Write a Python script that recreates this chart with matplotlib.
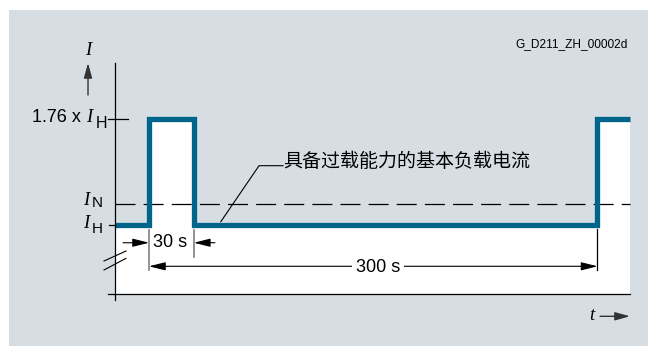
import matplotlib
matplotlib.use("Agg")
import matplotlib.pyplot as plt
from matplotlib.patches import Rectangle

# levels in multiples of I_H, times in seconds
level_base = 1.0        # I_H
level_peak = 1.76       # 1.76 x I_H
level_rated = 1.15      # I_N
pulse_start = 0
pulse_end = 30
period = 300

t_axis = -22.7          # where the I axis sits
t_last = 321.7          # right end of the curve
v_floor = 0.5           # where the t axis sits

curve_t = [t_axis, pulse_start, pulse_start, pulse_end, pulse_end, period, period, t_last]
curve_v = [level_base, level_base, level_peak, level_peak, level_base, level_base, level_peak, level_peak]

label_text = "具备过载能力的基本负载电流"
fig_code = "G_D211_ZH_00002d"

SANS = "Liberation Sans"
SERIF = "Liberation Serif"
CJK = ["Noto Sans CJK SC", "DejaVu Sans"]
BLUE = "#00658a"
PANEL = "#d6dee3"

fig = plt.figure(figsize=(6.48, 3.46), dpi=100)
ax = fig.add_axes([0, 0, 1, 1])
ax.set_xlim(-99.67, 333.78)
ax.set_ylim(0.1206, 2.6249)
ax.axis("off")

# grey panel
ax.add_patch(Rectangle((9 / 648, 0), 1 - 9 / 648, 336 / 346, transform=ax.transAxes,
                       facecolor=PANEL, edgecolor="none", zorder=0))

# white area below the curve
ax.fill_between(curve_t, v_floor, curve_v, facecolor="white", edgecolor="none", zorder=1)

# axes
ax.plot([t_axis, t_axis], [0.454, 2.169], color="black", lw=0.9, zorder=4)
ax.plot([-27.4, t_last], [v_floor, v_floor], color="black", lw=0.9, zorder=4)
ax.plot([-27.4, -14.0], [level_peak, level_peak], color="black", lw=0.9, zorder=4)
ax.plot([-26.8, t_axis], [level_base, level_base], color="black", lw=0.9, zorder=4)

# break marks
ax.plot([-30.1, -15.4], [0.736, 0.808], color="black", lw=0.8, zorder=4)
ax.plot([-30.1, -15.4], [0.671, 0.755], color="black", lw=0.8, zorder=4)

# I_N dashed level
ax.plot([t_axis, t_last], [level_rated, level_rated], color="black", lw=0.9,
        dashes=(16, 6.5), zorder=2)

# load cycle
ax.plot(curve_t, curve_v, color=BLUE, lw=3.8, solid_joinstyle="miter",
        solid_capstyle="butt", zorder=3)

# axis labels
ax.text(-40.8, 2.263, "I", family=SERIF, style="italic", fontsize=13.5,
        ha="center", va="center")
ax.annotate("", xy=(-40.8, 2.169), xytext=(-40.8, 1.937),
            arrowprops=dict(arrowstyle="-|>,head_length=0.9,head_width=0.25",
                            color="#333333", lw=1.0, shrinkA=0, shrinkB=0))
ax.text(296.3, 0.338, "t", family=SERIF, style="italic", fontsize=13.5,
        ha="center", va="center")
ax.annotate("", xy=(321.7, 0.3356), xytext=(301.7, 0.3356),
            arrowprops=dict(arrowstyle="-|>,head_length=0.9,head_width=0.25",
                            color="#333333", lw=1.0, shrinkA=0, shrinkB=0))

# level labels
ax.text(-45.5, 1.74, "1.76 x", family=SANS, fontsize=13, ha="right", va="baseline")
ax.text(-42.1, 1.74, "I", family=SERIF, style="italic", fontsize=13.5, ha="left", va="baseline")
ax.text(-35.6, 1.702, "H", family=SANS, fontsize=11.5, ha="left", va="baseline")
ax.text(-44.1, 1.143, "I", family=SERIF, style="italic", fontsize=13.5, ha="left", va="baseline")
ax.text(-38.3, 1.127, "N", family=SANS, fontsize=11, ha="left", va="baseline")
ax.text(-44.1, 0.975, "I", family=SERIF, style="italic", fontsize=13.5, ha="left", va="baseline")
ax.text(-38.3, 0.938, "H", family=SANS, fontsize=11, ha="left", va="baseline")

# figure code
ax.text(320.4, 2.306, fig_code, family=SANS, fontsize=8.6, ha="right", va="center")

# callout
ax.plot([89.6, 73.6, 48.0], [1.4256, 1.4256, 1.02], color="black", lw=0.8, zorder=4)
ax.text(89.6, 1.456, label_text, family=CJK, fontsize=13.7, ha="left", va="center")

# 30 s dimension
ax.plot([pulse_start, pulse_start], [0.671, 0.960], color="#808080", lw=1.2, zorder=4)
ax.plot([pulse_end, pulse_end], [0.765, 0.960], color="#808080", lw=1.2, zorder=4)
head = "-|>,head_length=1.0,head_width=0.25"
ax.annotate("", xy=(pulse_start, 0.868), xytext=(-17.4, 0.868),
            arrowprops=dict(arrowstyle=head, color="black", lw=0.8, shrinkA=0, shrinkB=0))
ax.annotate("", xy=(pulse_end, 0.868), xytext=(44.1, 0.868),
            arrowprops=dict(arrowstyle=head, color="black", lw=0.8, shrinkA=0, shrinkB=0))
ax.text((pulse_start + pulse_end) / 2 - 0.6, 0.868, "30 s", family=SANS, fontsize=13,
        ha="center", va="center")

# 300 s dimension
ax.plot([period, period], [0.671, 0.967], color="black", lw=0.9, zorder=4)
ax.annotate("", xy=(period, 0.6975), xytext=(pulse_start, 0.6975),
            arrowprops=dict(arrowstyle="<|-|>,head_length=1.0,head_width=0.25",
                            color="black", lw=0.8, shrinkA=0, shrinkB=0))
ax.text(153.2, 0.687, "300 s", family=SANS, fontsize=13, ha="center", va="center",
        bbox=dict(facecolor="white", edgecolor="none", pad=2.5), zorder=5)

fig.savefig("out.png", dpi=100)
